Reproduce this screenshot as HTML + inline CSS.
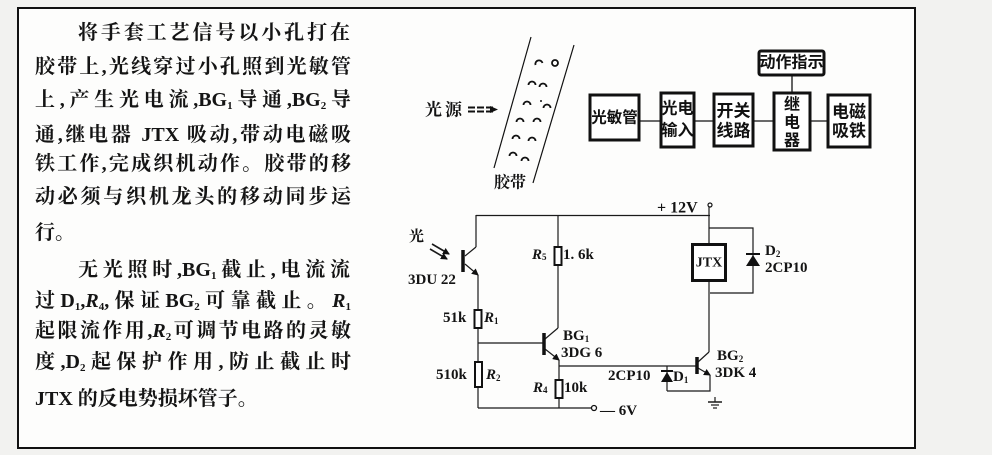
<!DOCTYPE html>
<html><head><meta charset="utf-8">
<style>
html,body{margin:0;padding:0;}
body{width:992px;height:455px;position:relative;background:#f2f2f0;overflow:hidden;}
#frame{position:absolute;left:17px;top:7px;width:899px;height:442px;border:2px solid #111;background:#fdfdfc;box-sizing:border-box;}
.ln{position:absolute;height:30px;line-height:30px;font-family:"Liberation Serif","Noto Serif CJK SC",serif;font-weight:700;font-size:20px;color:#141414;text-align:justify;text-align-last:justify;}
.nl{text-align:left;text-align-last:left;}
.ln sub{font-size:11px;vertical-align:-3px;line-height:0;}
.ln i{font-style:italic;}
svg{position:absolute;left:0;top:0;}
.c{font-family:"Liberation Serif","Noto Serif CJK SC",serif;font-weight:700;font-size:15px;fill:#141414;}
.b{font-family:"Liberation Sans","Noto Sans CJK SC",sans-serif;font-weight:700;font-size:16px;fill:#111;}
</style></head>
<body>
<div id="frame"></div>

<div class="ln" style="left:78px;top:18px;width:272px;">将手套工艺信号以小孔打在</div>
<div class="ln" style="left:35px;top:52px;width:316px;">胶带上,光线穿过小孔照到光敏管</div>
<div class="ln" style="left:35px;top:85px;width:316px;">上,产生光电流,BG<sub>1</sub>导通,BG<sub>2</sub>导</div>
<div class="ln" style="left:35px;top:120px;width:316px;">通,继电器 JTX 吸动,带动电磁吸</div>
<div class="ln" style="left:35px;top:149px;width:316px;">铁工作,完成织机动作。胶带的移</div>
<div class="ln" style="left:35px;top:182px;width:316px;">动必须与织机龙头的移动同步运</div>
<div class="ln nl" style="left:35px;top:218px;width:316px;">行。</div>
<div class="ln" style="left:78px;top:255px;width:272px;">无光照时,BG<sub>1</sub>截止,电流流</div>
<div class="ln" style="left:35px;top:286px;width:316px;">过D<sub>1</sub>,<i>R</i><sub>4</sub>,保证BG<sub>2</sub>可靠截止。<i>R</i><sub>1</sub></div>
<div class="ln" style="left:35px;top:316px;width:316px;">起限流作用,<i>R</i><sub>2</sub>可调节电路的灵敏</div>
<div class="ln" style="left:35px;top:347px;width:316px;">度,D<sub>2</sub>起保护作用,防止截止时</div>
<div class="ln nl" style="left:35px;top:384px;width:316px;">JTX 的反电势损坏管子。</div>

<svg width="992" height="455" viewBox="0 0 992 455">
<defs>
<marker id="ar" markerWidth="7" markerHeight="7" refX="6" refY="3.5" orient="auto" markerUnits="userSpaceOnUse"><path d="M0,0 L7,3.5 L0,7 z" fill="#111"/></marker>
</defs>

<!-- tape -->
<g stroke="#111" fill="none" stroke-width="1.2">
<line x1="531" y1="37" x2="494" y2="168"/>
<line x1="574" y1="45" x2="533" y2="183"/>
</g>
<g stroke="#111" fill="none" stroke-width="1.8">
<path d="M535.5,65 A3.5,3.5 0 1 1 542.5,63"/>
<circle cx="555" cy="63" r="3"/>
<path d="M528.5,85 A3.5,3.5 0 0 1 535.5,85"/>
<path d="M539.5,87 A3.5,3.5 0 0 1 546.5,87"/>
<path d="M523.5,105 A3.5,3.5 0 0 1 530.5,105"/>
<path d="M543.5,108 A3.5,3.5 0 0 1 550.5,108"/>
<path d="M516.5,122 A3.5,3.5 0 0 1 523.5,122"/>
<path d="M533.5,122 A3.5,3.5 0 0 1 540.5,122"/>
<path d="M512.5,139 A3.5,3.5 0 0 1 519.5,139"/>
<path d="M528.5,141 A3.5,3.5 0 0 1 535.5,141"/>
<path d="M509.5,156 A3.5,3.5 0 0 1 516.5,156"/>
<path d="M521.5,161 A3.5,3.5 0 0 1 528.5,161"/>
</g>
<circle cx="541" cy="101" r="1" fill="#111"/>
<text x="425" y="110" dominant-baseline="central" class="c" style="font-size:17px;letter-spacing:3px;">光源</text>
<g stroke="#111" stroke-width="2" fill="none">
<line x1="468" y1="107.5" x2="494" y2="107.5" stroke-dasharray="7 2"/>
<line x1="468" y1="111.5" x2="494" y2="111.5" stroke-dasharray="7 2"/>
</g>
<path d="M490,106 L498,109.5 L490,113 z" fill="#111"/>
<text x="494" y="183" dominant-baseline="central" class="c" style="font-size:16px;">胶带</text>

<!-- block diagram -->
<g stroke="#111" fill="#fff" stroke-width="3">
<rect x="590" y="95" width="49" height="45"/>
<rect x="661" y="93" width="33" height="54"/>
<rect x="714" y="94" width="39" height="52"/>
<rect x="774" y="93" width="36" height="57"/>
<rect x="828" y="95" width="42" height="52"/>
<rect x="759" y="51" width="65" height="24" rx="2"/>
</g>
<g stroke="#111" stroke-width="1.3">
<line x1="640" y1="121" x2="661" y2="121"/>
<line x1="695" y1="121" x2="714" y2="121"/>
<line x1="754" y1="121" x2="774" y2="121"/>
<line x1="811" y1="121" x2="828" y2="121"/>
<line x1="792" y1="76" x2="792" y2="93"/>
</g>
<g class="b" text-anchor="middle" dominant-baseline="central">
<text x="614.5" y="118" style="font-size:15.5px;">光敏管</text>
<text x="677.5" y="109">光电</text>
<text x="677.5" y="131">输入</text>
<text x="733.5" y="111" style="font-size:17px;">开关</text>
<text x="733.5" y="131" style="font-size:17px;">线路</text>
<text x="792" y="105">继</text>
<text x="792" y="123">电</text>
<text x="792" y="141">器</text>
<text x="849" y="112" style="font-size:17px;">电磁</text>
<text x="849" y="131" style="font-size:17px;">吸铁</text>
<text x="791.5" y="63">动作指示</text>
</g>

<!-- circuit wires -->
<g stroke="#1a1a1a" fill="none" stroke-width="1.2">
<line x1="476" y1="215.5" x2="710" y2="215.5"/>
<line x1="476" y1="215" x2="476" y2="247"/>
<line x1="465" y1="256" x2="476" y2="247"/>
<line x1="465" y1="264" x2="478" y2="275" marker-end="url(#ar)"/>
<line x1="478" y1="275" x2="478" y2="408"/>
<line x1="478" y1="343" x2="544" y2="343"/>
<line x1="558" y1="215" x2="558" y2="328"/>
<line x1="545" y1="339" x2="558" y2="328"/>
<line x1="545" y1="349" x2="559" y2="360" marker-end="url(#ar)"/>
<line x1="559" y1="360" x2="559" y2="408"/>
<line x1="478" y1="408" x2="591" y2="408"/>
<line x1="559" y1="366" x2="697" y2="366"/>
<line x1="698" y1="362" x2="709" y2="352"/>
<line x1="698" y1="368" x2="710" y2="375" marker-end="url(#ar)"/>
<line x1="709" y1="207" x2="709" y2="244"/>
<line x1="709" y1="281" x2="709" y2="352"/>
<polyline points="709,228 753,228 753,293 710,293"/>
<line x1="667" y1="366" x2="667" y2="391"/>
<polyline points="667,391 710,391 710,375"/>
<line x1="432" y1="244" x2="449" y2="254" stroke-width="1.6" marker-end="url(#ar)"/>
<line x1="430" y1="249" x2="447" y2="259" stroke-width="1.6" marker-end="url(#ar)"/>
<line x1="715" y1="397" x2="715" y2="402"/>
<line x1="708" y1="402" x2="722" y2="402" stroke-width="1.5"/>
<line x1="711" y1="405" x2="719" y2="405"/>
<line x1="713" y1="408" x2="717" y2="408"/>
</g>
<!-- transistor bases -->
<g stroke="#111" stroke-width="3.5">
<line x1="463" y1="250" x2="463" y2="272"/>
<line x1="544" y1="333" x2="544" y2="355"/>
<line x1="697" y1="357" x2="697" y2="374"/>
</g>
<!-- resistors -->
<g stroke="#111" fill="#fff" stroke-width="2">
<rect x="474.5" y="310" width="7" height="18"/>
<rect x="475" y="362" width="7" height="25"/>
<rect x="554.5" y="247" width="7" height="18"/>
<rect x="555.5" y="380" width="7" height="18"/>
<rect x="692.5" y="244.5" width="33" height="36" stroke-width="3"/>
</g>
<!-- diodes -->
<line x1="746" y1="254" x2="760" y2="254" stroke="#111" stroke-width="2"/>
<path d="M746,266 L760,266 L753,255 z" fill="#111"/>
<line x1="661" y1="371" x2="673" y2="371" stroke="#111" stroke-width="2"/>
<path d="M661,382 L673,382 L667,372 z" fill="#111"/>
<circle cx="594" cy="408" r="2.5" fill="#fff" stroke="#111" stroke-width="1.3"/>
<circle cx="710" cy="205" r="2" fill="#fff" stroke="#111" stroke-width="1.2"/>

<!-- circuit labels -->
<g class="c" dominant-baseline="central">
<text x="409" y="237">光</text>
<text x="408" y="280">3DU 22</text>
<text x="443" y="318">51k</text>
<text x="484" y="318"><tspan font-style="italic">R</tspan><tspan font-size="9" dy="3">1</tspan></text>
<text x="436" y="375">510k</text>
<text x="486" y="375"><tspan font-style="italic">R</tspan><tspan font-size="9" dy="3">2</tspan></text>
<text x="532" y="255"><tspan font-style="italic">R</tspan><tspan font-size="9" dy="2">5</tspan></text>
<text x="563" y="255">1. 6k</text>
<text x="563" y="336">BG<tspan font-size="9" dy="3">1</tspan></text>
<text x="561" y="353">3DG 6</text>
<text x="533" y="388"><tspan font-style="italic">R</tspan><tspan font-size="9" dy="2">4</tspan></text>
<text x="564" y="388">10k</text>
<text x="608" y="376">2CP10</text>
<text x="673" y="377">D<tspan font-size="9" dy="3">1</tspan></text>
<text x="600" y="411">— 6V</text>
<text x="717" y="356">BG<tspan font-size="9" dy="3">2</tspan></text>
<text x="715" y="373">3DK 4</text>
<text x="657" y="208" style="font-size:16px;">+ 12V</text>
<text x="709" y="263" text-anchor="middle" style="font-size:14px;">JTX</text>
<text x="765" y="251">D<tspan font-size="9" dy="3">2</tspan></text>
<text x="765" y="268">2CP10</text>
</g>
</svg>
</body></html>
